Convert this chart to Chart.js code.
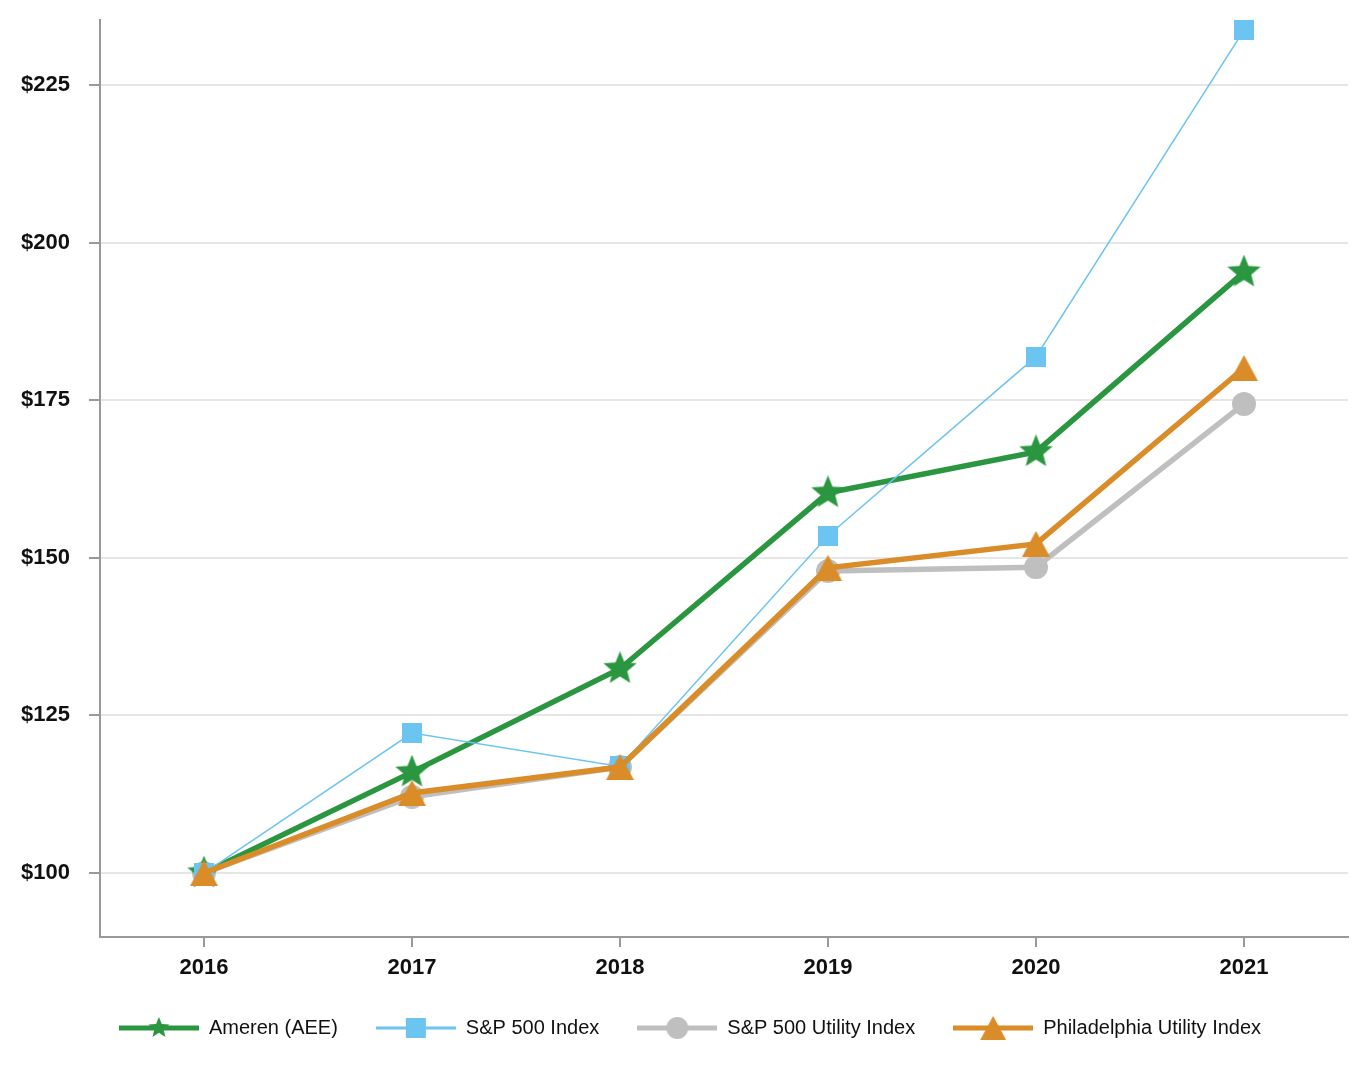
<!DOCTYPE html>
<html lang="en">
<head>
  <meta charset="UTF-8" />
  <title>Cumulative Total Shareholder Return</title>
  <style>
    html, body {
      margin: 0;
      padding: 0;
      background-color: white;
    }
    #chart-container {
      position: relative;
      width: 1368px;
      height: 1074px;
    }
  </style>
  <script src="https://cdn.jsdelivr.net/npm/chart.js"></script>
</head>
<body>
  <div id="chart-container">
    <canvas id="chart"></canvas>
  </div>

  <script>
    const years = ['2016', '2017', '2018', '2019', '2020', '2021'];
    const ameren = [100, 116.0, 132.4, 160.3, 166.8, 195.3];
    const sp500 = [100, 122.2, 116.9, 153.5, 181.9, 233.7];
    const spUtility = [100, 112.1, 116.8, 147.9, 148.5, 174.4];
    const phlUtility = [100, 112.7, 116.8, 148.4, 152.2, 180.1];
    const yTicks = [100, 125, 150, 175, 200, 225];

    const GREEN = '#2a9640';
    const BLUE = '#6cc5f0';
    const GREY = '#bfbfbf';
    const ORANGE = '#d98c28';

    // draw a marker shape onto a 2d context, centred at cx, cy
    function drawShape(ctx, shape, color, s, cx, cy) {
      ctx.fillStyle = color;
      ctx.beginPath();
      if (shape === 'star') {
        const R = s, r = s * 0.44;
        for (let i = 0; i < 10; i++) {
          const rad = i % 2 === 0 ? R : r;
          const a = -Math.PI / 2 + i * Math.PI / 5;
          const x = cx + Math.cos(a) * rad;
          const y = cy + Math.sin(a) * rad;
          if (i === 0) ctx.moveTo(x, y); else ctx.lineTo(x, y);
        }
        ctx.closePath();
      } else if (shape === 'square') {
        ctx.rect(cx - s, cy - s, s * 2, s * 2);
      } else if (shape === 'circle') {
        ctx.arc(cx, cy, s, 0, Math.PI * 2);
      } else if (shape === 'triangle') {
        const w = s * 1.08, h = s;
        ctx.moveTo(cx, cy - h);
        ctx.lineTo(cx + w, cy + h);
        ctx.lineTo(cx - w, cy + h);
        ctx.closePath();
      }
      ctx.fill();
    }

    function makeMarker(shape, color, s) {
      const c = document.createElement('canvas');
      const w = shape === 'triangle' ? Math.ceil(s * 2.16) : Math.ceil(s * 2);
      c.width = w;
      c.height = Math.ceil(s * 2);
      drawShape(c.getContext('2d'), shape, color, s, w / 2, c.height / 2);
      return c;
    }

    function makeLegendIcon(shape, color, s, lineWidth) {
      const c = document.createElement('canvas');
      c.width = 80;
      c.height = 30;
      const ctx = c.getContext('2d');
      ctx.strokeStyle = color;
      ctx.lineWidth = lineWidth;
      ctx.beginPath();
      ctx.moveTo(0, 15);
      ctx.lineTo(80, 15);
      ctx.stroke();
      drawShape(ctx, shape, color, s, 40, 15);
      return c;
    }

    const legendIcons = [
      makeLegendIcon('star', GREEN, 11, 5),
      makeLegendIcon('square', BLUE, 10, 3),
      makeLegendIcon('circle', GREY, 11, 5),
      makeLegendIcon('triangle', ORANGE, 12, 5)
    ];

    // nudge the legend so it sits centred under the page like the original
    const legendShift = {
      id: 'legendShift',
      afterLayout: chart => { chart.legend.left += 32; }
    };

    const tickFont = { family: "'Liberation Sans', Arial, sans-serif", size: 22, weight: 'bold' };

    const ctx = document.getElementById('chart').getContext('2d');
    new Chart(ctx, {
      type: 'line',
      data: {
        labels: years,
        datasets: [
          {
            label: 'Ameren (AEE)',
            data: ameren,
            borderColor: GREEN,
            borderWidth: 5.5,
            pointStyle: makeMarker('star', GREEN, 17.5),
            order: 3
          },
          {
            label: 'S&P 500 Index',
            data: sp500,
            borderColor: BLUE,
            borderWidth: 1.5,
            pointStyle: makeMarker('square', BLUE, 10),
            order: 2
          },
          {
            label: 'S&P 500 Utility Index',
            data: spUtility,
            borderColor: GREY,
            borderWidth: 5.5,
            pointStyle: makeMarker('circle', GREY, 12),
            order: 4
          },
          {
            label: 'Philadelphia Utility Index',
            data: phlUtility,
            borderColor: ORANGE,
            borderWidth: 5.5,
            pointStyle: makeMarker('triangle', ORANGE, 13),
            order: 1
          }
        ]
      },
      options: {
        responsive: true,
        maintainAspectRatio: false,
        animation: false,
        layout: { padding: { top: 20, right: 20, left: 0, bottom: 26 } },
        plugins: {
          tooltip: { enabled: false },
          legend: {
            position: 'bottom',
            labels: {
              usePointStyle: true,
              pointStyleWidth: 80,
              padding: 38,
              color: '#111',
              font: { family: "'Liberation Sans', Arial, sans-serif", size: 20 },
              generateLabels: chart => chart.data.datasets.map((ds, i) => ({
                text: ds.label,
                pointStyle: legendIcons[i],
                datasetIndex: i,
                hidden: false,
                lineWidth: 0,
                fontColor: '#111'
              }))
            }
          }
        },
        scales: {
          x: {
            offset: true,
            grid: {
              offset: false,
              drawOnChartArea: false,
              tickLength: 10,
              tickColor: '#999',
              lineWidth: 2
            },
            border: { color: '#999', width: 2 },
            ticks: { font: tickFont, color: '#111', padding: 8 },
            afterFit: scale => { scale.height = 43; }
          },
          y: {
            min: 89.85,
            max: 235.3,
            grid: {
              color: '#e6e6e6',
              lineWidth: 2,
              tickLength: 11,
              tickColor: '#999'
            },
            border: { color: '#999', width: 2 },
            ticks: {
              font: tickFont,
              color: '#111',
              padding: 19,
              callback: v => '$' + v
            },
            afterBuildTicks: scale => { scale.ticks = yTicks.map(v => ({ value: v })); },
            afterFit: scale => {
              scale.width = 100;
              scale.paddingTop = 0;
              scale.paddingBottom = 0;
            }
          }
        }
      },
      plugins: [legendShift]
    });
  </script>
</body>
</html>
